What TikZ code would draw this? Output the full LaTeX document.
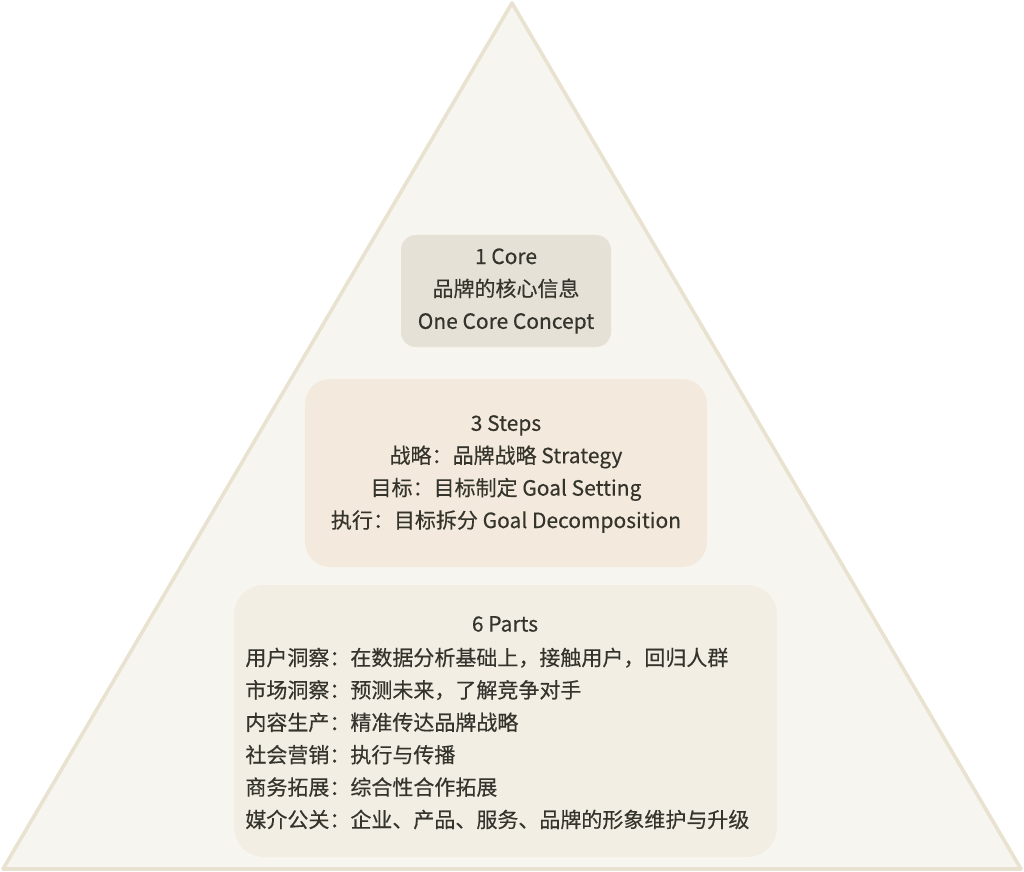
\documentclass[tikz,border=0pt]{standalone}
\usepackage{fontspec}
\setmainfont{Noto Sans CJK SC}[FakeBold=0.35]
\usepackage{xcolor}
\usetikzlibrary{positioning}
\definecolor{pyrfill}{HTML}{F7F5EF}
\definecolor{pyrline}{HTML}{E9E2D0}
\definecolor{corefill}{HTML}{E6E1D6}
\definecolor{stepfill}{HTML}{F3EADD}
\definecolor{partfill}{HTML}{F2EEE4}
\definecolor{ink}{HTML}{35342C}

\begin{document}
\begin{tikzpicture}[
    x=0.5pt, y=-0.5pt,
    pyramid/.style={draw=pyrline, fill=pyrfill, line width=1.8pt, line join=round},
    tier/.style={rectangle, draw=none, inner sep=0pt},
    txt/.style={inner sep=0pt, text=ink, font=\fontsize{10.5pt}{16.2pt}\selectfont}
]
    \useasboundingbox (0,0) rectangle (1024,872);
    % pyramid outline
    \coordinate (apex) at (512,3);
    \coordinate (right) at (1021,869);
    \coordinate (left) at (3,869);
    \draw[pyramid] (apex) -- (right) -- (left) -- cycle;

    % three tiers
    \node[tier, fill=corefill, minimum width=105pt, minimum height=56pt, rounded corners=7.5pt] (core) at (506,291) {};
    \node[tier, fill=stepfill, minimum width=201pt, minimum height=94pt, rounded corners=12.5pt] (steps) at (506,473) {};
    \node[tier, fill=partfill, minimum width=271.5pt, minimum height=136pt, rounded corners=15pt] (parts) at (505.5,721) {};

    \node[txt, align=center] (coretxt) at (506,291) {1 Core\\品牌的核心信息\\One Core Concept};
    \node[txt, align=center] (stepstxt) at (506,474) {3 Steps\\战略：品牌战略 Strategy\\目标：目标制定 Goal Setting\\执行：目标拆分 Goal Decomposition};
    \node[txt] (partstitle) at (505,624) {6 Parts};
    \node[txt, align=left, anchor=west] (partstxt) at (245,738.5) {用户洞察：在数据分析基础上，接触用户，回归人群\\市场洞察：预测未来，了解竞争对手\\内容生产：精准传达品牌战略\\社会营销：执行与传播\\商务拓展：综合性合作拓展\\媒介公关：企业、产品、服务、品牌的形象维护与升级};
\end{tikzpicture}
\end{document}
